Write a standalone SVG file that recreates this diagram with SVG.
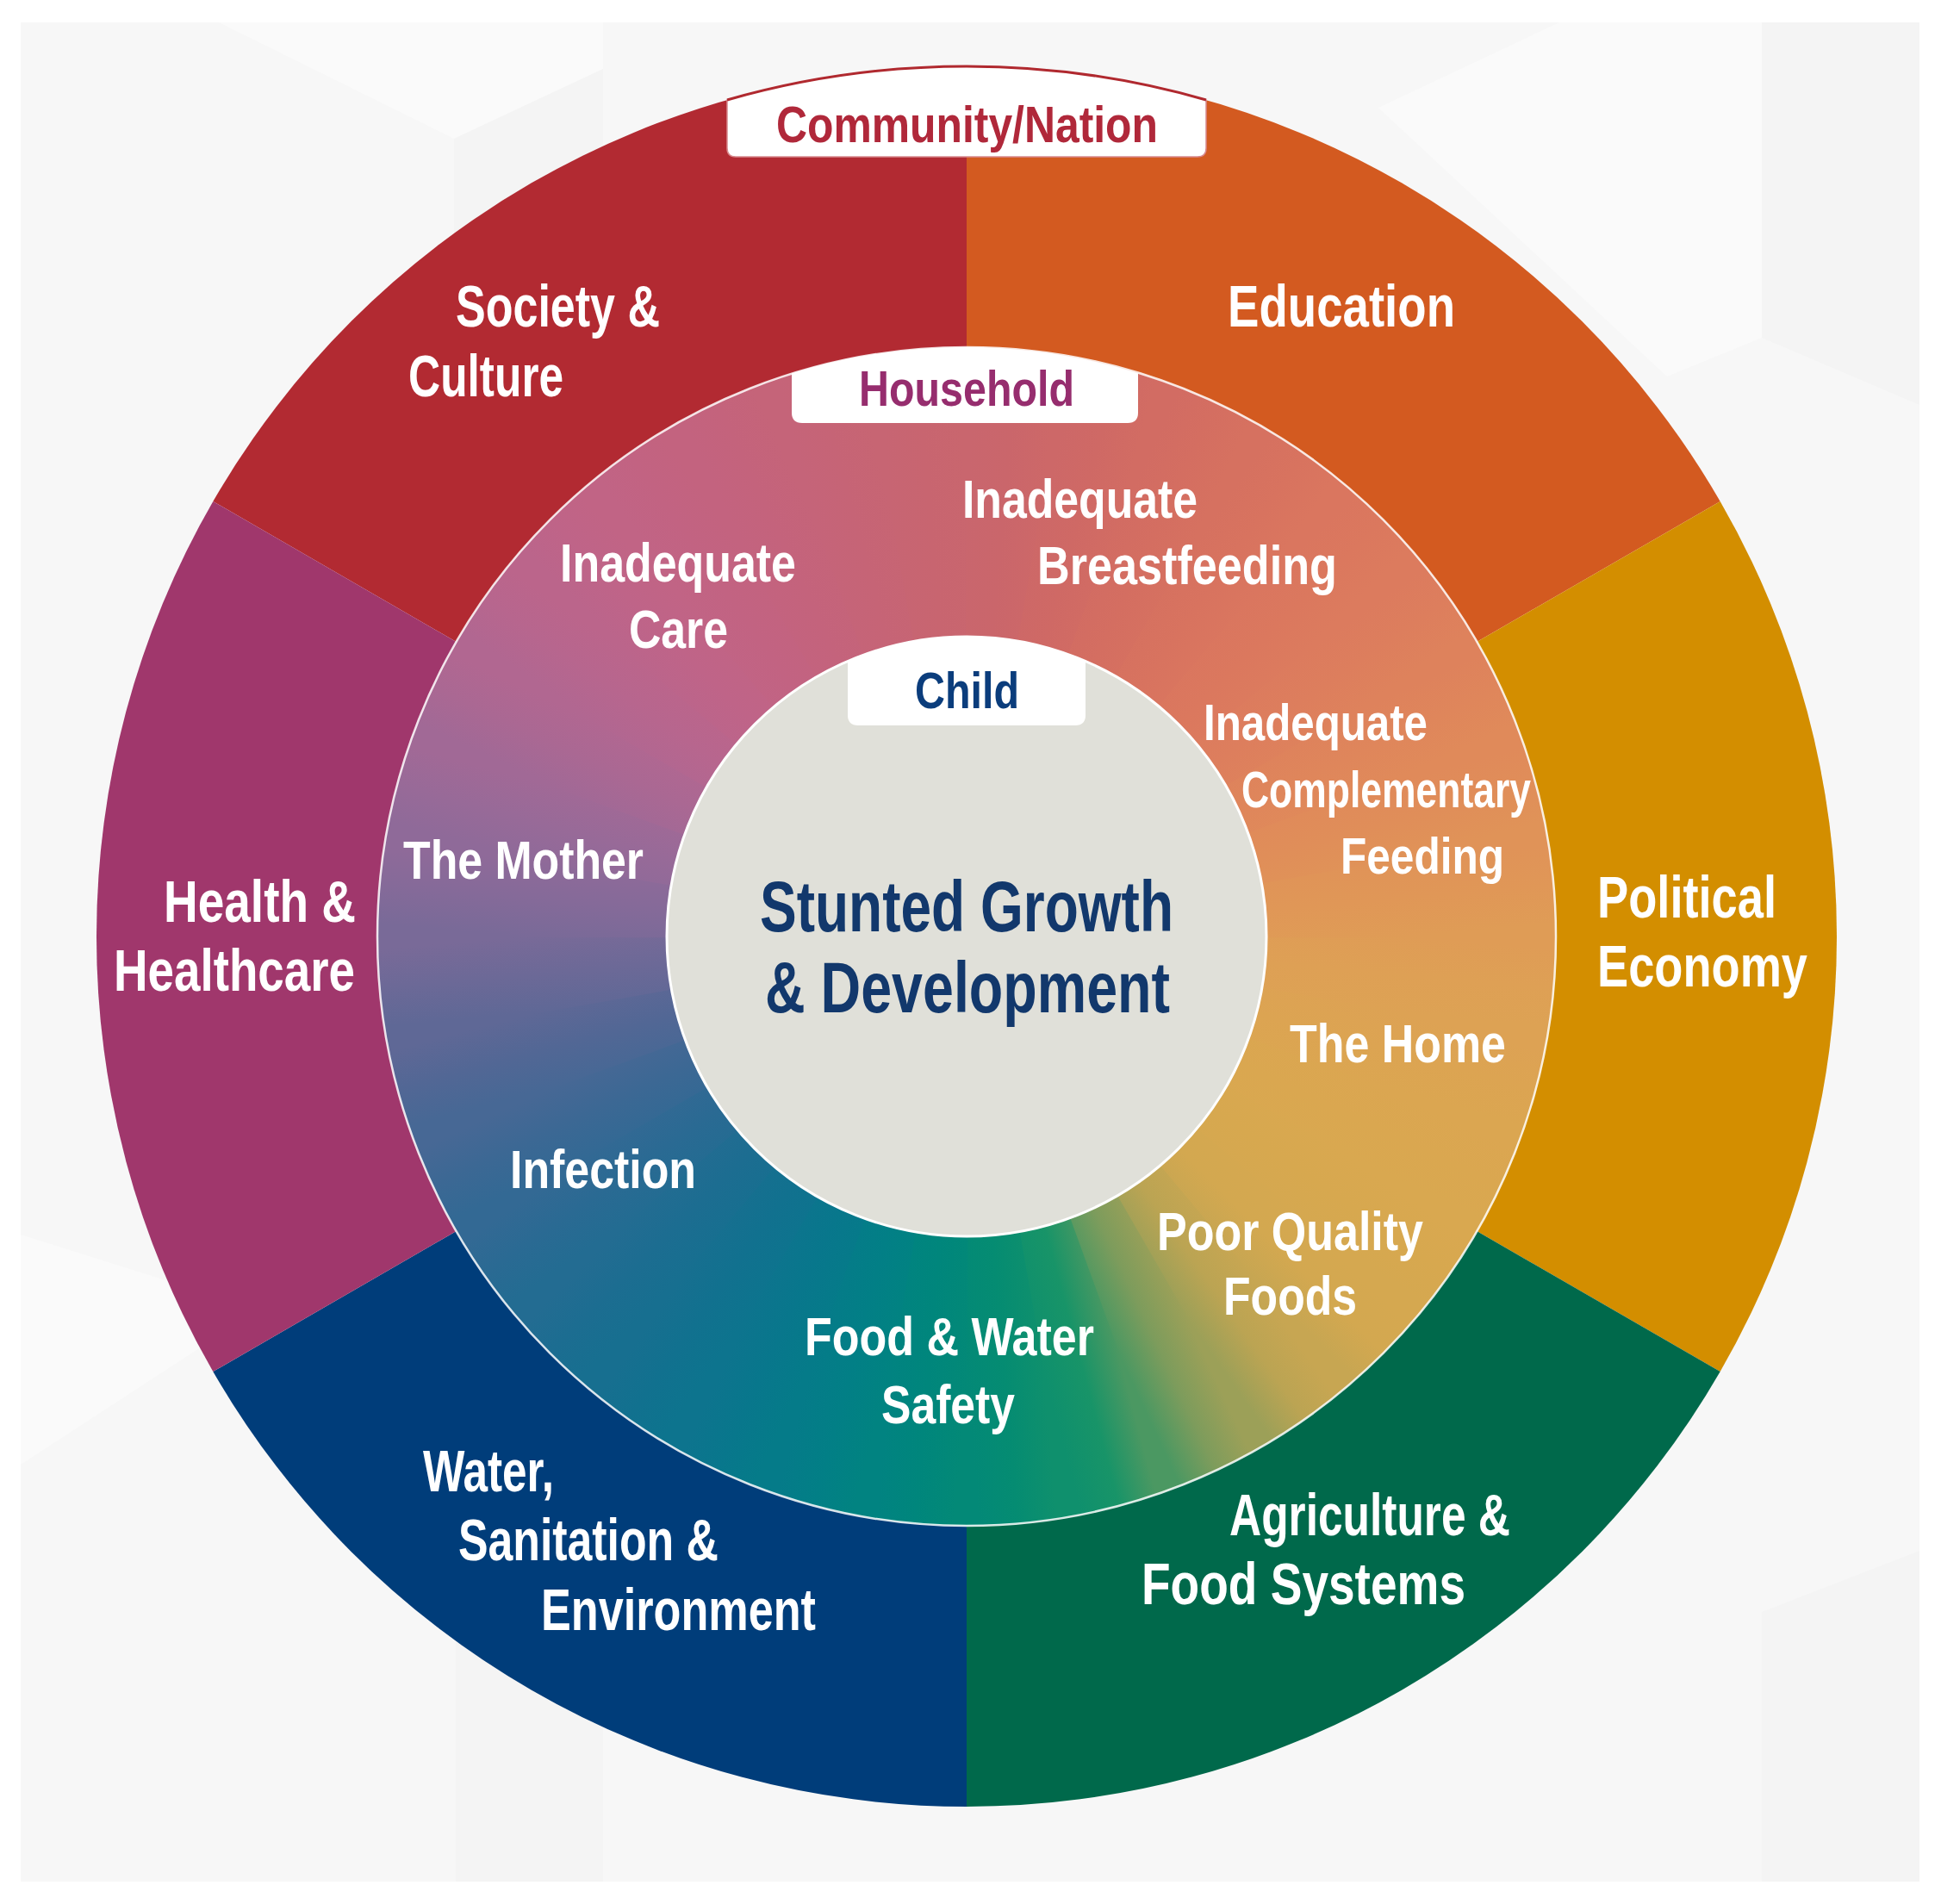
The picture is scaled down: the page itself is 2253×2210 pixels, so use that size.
<svg xmlns="http://www.w3.org/2000/svg" width="2253" height="2210" viewBox="0 0 2253 2210">
<defs>
<style>
.t{font-family:"Liberation Sans",Arial,sans-serif;font-weight:bold;}
.w{fill:#ffffff;}
.o{font-size:68px;}
.m{font-size:63px;}
.sm{font-size:60px;}
.c{font-size:84px;fill:#12386c;}
.wg path{stroke-width:2.5;}
.facet{fill:#f4f4f4;}
.facet2{fill:#fafafa;}
</style>
<clipPath id="ringClip"><circle cx="1122" cy="1087" r="684"/></clipPath>
<linearGradient id="g0" gradientUnits="userSpaceOnUse" x1="1637" y1="1087" x2="1629.18" y2="1176.43"><stop offset="0" stop-color="#df9c56"/><stop offset="0.5" stop-color="#dea055"/><stop offset="1" stop-color="#dda254"/></linearGradient>
<linearGradient id="g1" gradientUnits="userSpaceOnUse" x1="1629.18" y1="1176.43" x2="1605.94" y2="1263.14"><stop offset="0" stop-color="#dda254"/><stop offset="0.5" stop-color="#dca452"/><stop offset="1" stop-color="#dba651"/></linearGradient>
<linearGradient id="g2" gradientUnits="userSpaceOnUse" x1="1605.94" y1="1263.14" x2="1568" y2="1344.5"><stop offset="0" stop-color="#dba651"/><stop offset="0.5" stop-color="#daa750"/><stop offset="1" stop-color="#d9a850"/></linearGradient>
<linearGradient id="g3" gradientUnits="userSpaceOnUse" x1="1568" y1="1344.5" x2="1516.51" y2="1418.04"><stop offset="0" stop-color="#d9a850"/><stop offset="0.5" stop-color="#d7a84f"/><stop offset="1" stop-color="#d5a850"/></linearGradient>
<linearGradient id="g4" gradientUnits="userSpaceOnUse" x1="1516.51" y1="1418.04" x2="1453.04" y2="1481.51"><stop offset="0" stop-color="#d5a850"/><stop offset="0.5" stop-color="#d3a850"/><stop offset="1" stop-color="#c7a652"/></linearGradient>
<linearGradient id="g5" gradientUnits="userSpaceOnUse" x1="1453.04" y1="1481.51" x2="1379.5" y2="1533"><stop offset="0" stop-color="#c7a652"/><stop offset="0.5" stop-color="#bba453"/><stop offset="1" stop-color="#9ca058"/></linearGradient>
<linearGradient id="g6" gradientUnits="userSpaceOnUse" x1="1379.5" y1="1533" x2="1298.14" y2="1570.94"><stop offset="0" stop-color="#9ca058"/><stop offset="0.5" stop-color="#7d9c5c"/><stop offset="1" stop-color="#4b9862"/></linearGradient>
<linearGradient id="g7" gradientUnits="userSpaceOnUse" x1="1298.14" y1="1570.94" x2="1211.43" y2="1594.18"><stop offset="0" stop-color="#4b9862"/><stop offset="0.5" stop-color="#189468"/><stop offset="1" stop-color="#0f906d"/></linearGradient>
<linearGradient id="g8" gradientUnits="userSpaceOnUse" x1="1211.43" y1="1594.18" x2="1122" y2="1602"><stop offset="0" stop-color="#0f906d"/><stop offset="0.5" stop-color="#058c72"/><stop offset="1" stop-color="#038977"/></linearGradient>
<linearGradient id="g9" gradientUnits="userSpaceOnUse" x1="1122" y1="1602" x2="1032.57" y2="1594.18"><stop offset="0" stop-color="#038977"/><stop offset="0.5" stop-color="#00867c"/><stop offset="1" stop-color="#018381"/></linearGradient>
<linearGradient id="g10" gradientUnits="userSpaceOnUse" x1="1032.57" y1="1594.18" x2="945.86" y2="1570.94"><stop offset="0" stop-color="#018381"/><stop offset="0.5" stop-color="#027f86"/><stop offset="1" stop-color="#057b89"/></linearGradient>
<linearGradient id="g11" gradientUnits="userSpaceOnUse" x1="945.86" y1="1570.94" x2="864.5" y2="1533"><stop offset="0" stop-color="#057b89"/><stop offset="0.5" stop-color="#08778c"/><stop offset="1" stop-color="#0d748e"/></linearGradient>
<linearGradient id="g12" gradientUnits="userSpaceOnUse" x1="864.5" y1="1533" x2="790.96" y2="1481.51"><stop offset="0" stop-color="#0d748e"/><stop offset="0.5" stop-color="#11718f"/><stop offset="1" stop-color="#176f90"/></linearGradient>
<linearGradient id="g13" gradientUnits="userSpaceOnUse" x1="790.96" y1="1481.51" x2="727.49" y2="1418.04"><stop offset="0" stop-color="#176f90"/><stop offset="0.5" stop-color="#1c6d91"/><stop offset="1" stop-color="#236c92"/></linearGradient>
<linearGradient id="g14" gradientUnits="userSpaceOnUse" x1="727.49" y1="1418.04" x2="676" y2="1344.5"><stop offset="0" stop-color="#236c92"/><stop offset="0.5" stop-color="#2a6a93"/><stop offset="1" stop-color="#336994"/></linearGradient>
<linearGradient id="g15" gradientUnits="userSpaceOnUse" x1="676" y1="1344.5" x2="638.06" y2="1263.14"><stop offset="0" stop-color="#336994"/><stop offset="0.5" stop-color="#3c6894"/><stop offset="1" stop-color="#476895"/></linearGradient>
<linearGradient id="g16" gradientUnits="userSpaceOnUse" x1="638.06" y1="1263.14" x2="614.82" y2="1176.43"><stop offset="0" stop-color="#476895"/><stop offset="0.5" stop-color="#526795"/><stop offset="1" stop-color="#5f6896"/></linearGradient>
<linearGradient id="g17" gradientUnits="userSpaceOnUse" x1="614.82" y1="1176.43" x2="607" y2="1087"><stop offset="0" stop-color="#5f6896"/><stop offset="0.5" stop-color="#6c6997"/><stop offset="1" stop-color="#796a98"/></linearGradient>
<linearGradient id="g18" gradientUnits="userSpaceOnUse" x1="607" y1="1087" x2="614.82" y2="997.57"><stop offset="0" stop-color="#796a98"/><stop offset="0.5" stop-color="#856a99"/><stop offset="1" stop-color="#8f6a99"/></linearGradient>
<linearGradient id="g19" gradientUnits="userSpaceOnUse" x1="614.82" y1="997.57" x2="638.06" y2="910.86"><stop offset="0" stop-color="#8f6a99"/><stop offset="0.5" stop-color="#986a98"/><stop offset="1" stop-color="#a16996"/></linearGradient>
<linearGradient id="g20" gradientUnits="userSpaceOnUse" x1="638.06" y1="910.86" x2="676" y2="829.5"><stop offset="0" stop-color="#a16996"/><stop offset="0.5" stop-color="#aa6893"/><stop offset="1" stop-color="#b16791"/></linearGradient>
<linearGradient id="g21" gradientUnits="userSpaceOnUse" x1="676" y1="829.5" x2="727.49" y2="755.96"><stop offset="0" stop-color="#b16791"/><stop offset="0.5" stop-color="#b7668e"/><stop offset="1" stop-color="#bb658b"/></linearGradient>
<linearGradient id="g22" gradientUnits="userSpaceOnUse" x1="727.49" y1="755.96" x2="790.96" y2="692.49"><stop offset="0" stop-color="#bb658b"/><stop offset="0.5" stop-color="#bf6488"/><stop offset="1" stop-color="#c16485"/></linearGradient>
<linearGradient id="g23" gradientUnits="userSpaceOnUse" x1="790.96" y1="692.49" x2="864.5" y2="641"><stop offset="0" stop-color="#c16485"/><stop offset="0.5" stop-color="#c26382"/><stop offset="1" stop-color="#c3637f"/></linearGradient>
<linearGradient id="g24" gradientUnits="userSpaceOnUse" x1="864.5" y1="641" x2="945.86" y2="603.06"><stop offset="0" stop-color="#c3637f"/><stop offset="0.5" stop-color="#c4637c"/><stop offset="1" stop-color="#c56479"/></linearGradient>
<linearGradient id="g25" gradientUnits="userSpaceOnUse" x1="945.86" y1="603.06" x2="1032.57" y2="579.82"><stop offset="0" stop-color="#c56479"/><stop offset="0.5" stop-color="#c66476"/><stop offset="1" stop-color="#c76573"/></linearGradient>
<linearGradient id="g26" gradientUnits="userSpaceOnUse" x1="1032.57" y1="579.82" x2="1122" y2="572"><stop offset="0" stop-color="#c76573"/><stop offset="0.5" stop-color="#c86570"/><stop offset="1" stop-color="#c9666e"/></linearGradient>
<linearGradient id="g27" gradientUnits="userSpaceOnUse" x1="1122" y1="572" x2="1211.43" y2="579.82"><stop offset="0" stop-color="#c9666e"/><stop offset="0.5" stop-color="#ca666b"/><stop offset="1" stop-color="#cd6868"/></linearGradient>
<linearGradient id="g28" gradientUnits="userSpaceOnUse" x1="1211.43" y1="579.82" x2="1298.14" y2="603.06"><stop offset="0" stop-color="#cd6868"/><stop offset="0.5" stop-color="#cf6965"/><stop offset="1" stop-color="#d26c63"/></linearGradient>
<linearGradient id="g29" gradientUnits="userSpaceOnUse" x1="1298.14" y1="603.06" x2="1379.5" y2="641"><stop offset="0" stop-color="#d26c63"/><stop offset="0.5" stop-color="#d46e61"/><stop offset="1" stop-color="#d67160"/></linearGradient>
<linearGradient id="g30" gradientUnits="userSpaceOnUse" x1="1379.5" y1="641" x2="1453.04" y2="692.49"><stop offset="0" stop-color="#d67160"/><stop offset="0.5" stop-color="#d8735f"/><stop offset="1" stop-color="#da765f"/></linearGradient>
<linearGradient id="g31" gradientUnits="userSpaceOnUse" x1="1453.04" y1="692.49" x2="1516.51" y2="755.96"><stop offset="0" stop-color="#da765f"/><stop offset="0.5" stop-color="#db785e"/><stop offset="1" stop-color="#dc7b5e"/></linearGradient>
<linearGradient id="g32" gradientUnits="userSpaceOnUse" x1="1516.51" y1="755.96" x2="1568" y2="829.5"><stop offset="0" stop-color="#dc7b5e"/><stop offset="0.5" stop-color="#dd7e5d"/><stop offset="1" stop-color="#de825c"/></linearGradient>
<linearGradient id="g33" gradientUnits="userSpaceOnUse" x1="1568" y1="829.5" x2="1605.94" y2="910.86"><stop offset="0" stop-color="#de825c"/><stop offset="0.5" stop-color="#df865b"/><stop offset="1" stop-color="#e08a5a"/></linearGradient>
<linearGradient id="g34" gradientUnits="userSpaceOnUse" x1="1605.94" y1="910.86" x2="1629.18" y2="997.57"><stop offset="0" stop-color="#e08a5a"/><stop offset="0.5" stop-color="#e08e59"/><stop offset="1" stop-color="#e09358"/></linearGradient>
<linearGradient id="g35" gradientUnits="userSpaceOnUse" x1="1629.18" y1="997.57" x2="1637" y2="1087"><stop offset="0" stop-color="#e09358"/><stop offset="0.5" stop-color="#e09757"/><stop offset="1" stop-color="#df9c56"/></linearGradient>
</defs>

<g id="background">
<rect x="0" y="0" width="2253" height="2210" fill="#ffffff"/>
<rect x="24" y="26" width="2204" height="2158" fill="#f7f7f7"/>
<polygon class="facet2" points="254,26 700,26 700,80 527,161"/>
<polygon class="facet" points="527,161 700,80 700,600 527,680"/>
<polygon class="facet" points="2045,26 2228,26 2228,470 2045,392"/>
<polygon class="facet2" points="1600,125 1810,26 2045,26 2045,392 1935,437"/>
<polygon class="facet" points="2045,1871 2228,1800 2228,2184 2045,2184"/>
<polygon class="facet" points="529,1842 700,1780 700,2184 529,2184"/>
<polygon class="facet2" points="24,1433 300,1520 24,1700"/>
</g>

<g id="outer-ring">
<g id="society-culture">
<path d="M1122,1087 L247.3,582 A1010,1010 0 0 1 1122,77 Z" fill="#b22a32"/>
<text class="t w o" x="529" y="379" textLength="237" lengthAdjust="spacingAndGlyphs">Society &amp;</text>
<text class="t w o" x="474" y="460" textLength="180" lengthAdjust="spacingAndGlyphs">Culture</text>
</g>
<g id="education">
<path d="M1122,1087 L1122,77 A1010,1010 0 0 1 1996.7,582 Z" fill="#d35a20"/>
<text class="t w o" x="1425" y="379" textLength="264" lengthAdjust="spacingAndGlyphs">Education</text>
</g>
<g id="political-economy">
<path d="M1122,1087 L1996.7,582 A1010,1010 0 0 1 1996.7,1592 Z" fill="#d38e00"/>
<text class="t w o" x="1854" y="1065" textLength="208" lengthAdjust="spacingAndGlyphs">Political</text>
<text class="t w o" x="1854" y="1145" textLength="244" lengthAdjust="spacingAndGlyphs">Economy</text>
</g>
<g id="agriculture-food-systems">
<path d="M1122,1087 L1996.7,1592 A1010,1010 0 0 1 1122,2097 Z" fill="#00694b"/>
<text class="t w o" x="1427" y="1782" textLength="326" lengthAdjust="spacingAndGlyphs">Agriculture &amp;</text>
<text class="t w o" x="1325" y="1862" textLength="376" lengthAdjust="spacingAndGlyphs">Food Systems</text>
</g>
<g id="water-sanitation-environment">
<path d="M1122,1087 L1122,2097 A1010,1010 0 0 1 247.3,1592 Z" fill="#003d7a"/>
<text class="t w o" x="491" y="1731" textLength="152" lengthAdjust="spacingAndGlyphs">Water,</text>
<text class="t w o" x="532" y="1811" textLength="302" lengthAdjust="spacingAndGlyphs">Sanitation &amp;</text>
<text class="t w o" x="628" y="1892" textLength="319" lengthAdjust="spacingAndGlyphs">Environment</text>
</g>
<g id="health-healthcare">
<path d="M1122,1087 L247.3,1592 A1010,1010 0 0 1 247.3,582 Z" fill="#a0376c"/>
<text class="t w o" x="190" y="1070" textLength="223" lengthAdjust="spacingAndGlyphs">Health &amp;</text>
<text class="t w o" x="132" y="1150" textLength="280" lengthAdjust="spacingAndGlyphs">Healthcare</text>
</g>
</g>

<g id="household-ring">
<g class="wg" clip-path="url(#ringClip)">
<path d="M1122,1087 L1882,1087 L1870.46,1218.97 Z" style="fill:url(#g0);stroke:url(#g0)"/>
<path d="M1122,1087 L1870.46,1218.97 L1836.16,1346.94 Z" style="fill:url(#g1);stroke:url(#g1)"/>
<path d="M1122,1087 L1836.16,1346.94 L1780.18,1467 Z" style="fill:url(#g2);stroke:url(#g2)"/>
<path d="M1122,1087 L1780.18,1467 L1704.19,1575.52 Z" style="fill:url(#g3);stroke:url(#g3)"/>
<path d="M1122,1087 L1704.19,1575.52 L1610.52,1669.19 Z" style="fill:url(#g4);stroke:url(#g4)"/>
<path d="M1122,1087 L1610.52,1669.19 L1502,1745.18 Z" style="fill:url(#g5);stroke:url(#g5)"/>
<path d="M1122,1087 L1502,1745.18 L1381.94,1801.16 Z" style="fill:url(#g6);stroke:url(#g6)"/>
<path d="M1122,1087 L1381.94,1801.16 L1253.97,1835.46 Z" style="fill:url(#g7);stroke:url(#g7)"/>
<path d="M1122,1087 L1253.97,1835.46 L1122,1847 Z" style="fill:url(#g8);stroke:url(#g8)"/>
<path d="M1122,1087 L1122,1847 L990.03,1835.46 Z" style="fill:url(#g9);stroke:url(#g9)"/>
<path d="M1122,1087 L990.03,1835.46 L862.06,1801.16 Z" style="fill:url(#g10);stroke:url(#g10)"/>
<path d="M1122,1087 L862.06,1801.16 L742,1745.18 Z" style="fill:url(#g11);stroke:url(#g11)"/>
<path d="M1122,1087 L742,1745.18 L633.48,1669.19 Z" style="fill:url(#g12);stroke:url(#g12)"/>
<path d="M1122,1087 L633.48,1669.19 L539.81,1575.52 Z" style="fill:url(#g13);stroke:url(#g13)"/>
<path d="M1122,1087 L539.81,1575.52 L463.82,1467 Z" style="fill:url(#g14);stroke:url(#g14)"/>
<path d="M1122,1087 L463.82,1467 L407.84,1346.94 Z" style="fill:url(#g15);stroke:url(#g15)"/>
<path d="M1122,1087 L407.84,1346.94 L373.54,1218.97 Z" style="fill:url(#g16);stroke:url(#g16)"/>
<path d="M1122,1087 L373.54,1218.97 L362,1087 Z" style="fill:url(#g17);stroke:url(#g17)"/>
<path d="M1122,1087 L362,1087 L373.54,955.03 Z" style="fill:url(#g18);stroke:url(#g18)"/>
<path d="M1122,1087 L373.54,955.03 L407.84,827.06 Z" style="fill:url(#g19);stroke:url(#g19)"/>
<path d="M1122,1087 L407.84,827.06 L463.82,707 Z" style="fill:url(#g20);stroke:url(#g20)"/>
<path d="M1122,1087 L463.82,707 L539.81,598.48 Z" style="fill:url(#g21);stroke:url(#g21)"/>
<path d="M1122,1087 L539.81,598.48 L633.48,504.81 Z" style="fill:url(#g22);stroke:url(#g22)"/>
<path d="M1122,1087 L633.48,504.81 L742,428.82 Z" style="fill:url(#g23);stroke:url(#g23)"/>
<path d="M1122,1087 L742,428.82 L862.06,372.84 Z" style="fill:url(#g24);stroke:url(#g24)"/>
<path d="M1122,1087 L862.06,372.84 L990.03,338.54 Z" style="fill:url(#g25);stroke:url(#g25)"/>
<path d="M1122,1087 L990.03,338.54 L1122,327 Z" style="fill:url(#g26);stroke:url(#g26)"/>
<path d="M1122,1087 L1122,327 L1253.97,338.54 Z" style="fill:url(#g27);stroke:url(#g27)"/>
<path d="M1122,1087 L1253.97,338.54 L1381.94,372.84 Z" style="fill:url(#g28);stroke:url(#g28)"/>
<path d="M1122,1087 L1381.94,372.84 L1502,428.82 Z" style="fill:url(#g29);stroke:url(#g29)"/>
<path d="M1122,1087 L1502,428.82 L1610.52,504.81 Z" style="fill:url(#g30);stroke:url(#g30)"/>
<path d="M1122,1087 L1610.52,504.81 L1704.19,598.48 Z" style="fill:url(#g31);stroke:url(#g31)"/>
<path d="M1122,1087 L1704.19,598.48 L1780.18,707 Z" style="fill:url(#g32);stroke:url(#g32)"/>
<path d="M1122,1087 L1780.18,707 L1836.16,827.06 Z" style="fill:url(#g33);stroke:url(#g33)"/>
<path d="M1122,1087 L1836.16,827.06 L1870.46,955.03 Z" style="fill:url(#g34);stroke:url(#g34)"/>
<path d="M1122,1087 L1870.46,955.03 L1882,1087 Z" style="fill:url(#g35);stroke:url(#g35)"/>
</g>
<circle cx="1122" cy="1087" r="684" fill="none" stroke="#ffffff" stroke-opacity="0.85" stroke-width="2.5"/>
</g>

<g id="ring-labels">
<g id="inadequate-care">
<text class="t w m" x="650" y="675" textLength="274" lengthAdjust="spacingAndGlyphs">Inadequate</text>
<text class="t w m" x="730" y="752" textLength="115" lengthAdjust="spacingAndGlyphs">Care</text>
</g>
<g id="inadequate-breastfeeding">
<text class="t w m" x="1117" y="601" textLength="273" lengthAdjust="spacingAndGlyphs">Inadequate</text>
<text class="t w m" x="1204" y="678" textLength="348" lengthAdjust="spacingAndGlyphs">Breastfeeding</text>
</g>
<g id="inadequate-complementary-feeding">
<text class="t w sm" x="1397" y="859" textLength="260" lengthAdjust="spacingAndGlyphs">Inadequate</text>
<text class="t w sm" x="1441" y="937" textLength="336" lengthAdjust="spacingAndGlyphs">Complementary</text>
<text class="t w sm" x="1556" y="1014" textLength="190" lengthAdjust="spacingAndGlyphs">Feeding</text>
</g>
<g id="the-mother">
<text class="t w m" x="468" y="1020" textLength="279" lengthAdjust="spacingAndGlyphs">The Mother</text>
</g>
<g id="the-home">
<text class="t w m" x="1497" y="1233" textLength="251" lengthAdjust="spacingAndGlyphs">The Home</text>
</g>
<g id="infection">
<text class="t w m" x="592" y="1379" textLength="216" lengthAdjust="spacingAndGlyphs">Infection</text>
</g>
<g id="poor-quality-foods">
<text class="t w m" x="1343" y="1451" textLength="309" lengthAdjust="spacingAndGlyphs">Poor Quality</text>
<text class="t w m" x="1420" y="1526" textLength="155" lengthAdjust="spacingAndGlyphs">Foods</text>
</g>
<g id="food-water-safety">
<text class="t w m" x="934" y="1573" textLength="336" lengthAdjust="spacingAndGlyphs">Food &amp; Water</text>
<text class="t w m" x="1023" y="1652" textLength="155" lengthAdjust="spacingAndGlyphs">Safety</text>
</g>
</g>

<g id="child-core">
<circle cx="1122" cy="1087" r="348" fill="#e0e0d9" stroke="#ffffff" stroke-width="3"/>
<text class="t c" x="882" y="1081" textLength="480" lengthAdjust="spacingAndGlyphs">Stunted Growth</text>
<text class="t c" x="888" y="1175" textLength="470" lengthAdjust="spacingAndGlyphs">&amp; Development</text>
</g>

<g id="label-community">
<path d="M844,116 A1010,1010 0 0 1 1400,116 L1400,172 Q1400,182 1390,182 L854,182 Q844,182 844,172 Z" fill="#ffffff" stroke="#d88a8e" stroke-width="1.5"/>
<path d="M844,116 A1010,1010 0 0 1 1400,116" fill="none" stroke="#b0292f" stroke-width="3"/>
<text class="t sm" x="901" y="165" fill="#b0283a" textLength="443" lengthAdjust="spacingAndGlyphs">Community/Nation</text>
</g>
<g id="label-household">
<path d="M919,433.2 A684,684 0 0 1 1321,433.2 L1321,479 Q1321,491 1309,491 L931,491 Q919,491 919,479 Z" fill="#ffffff"/>
<text class="t" x="997" y="471" font-size="58" fill="#962d6e" textLength="250" lengthAdjust="spacingAndGlyphs">Household</text>
</g>
<g id="label-child">
<path d="M984,767.5 A348,348 0 0 1 1260,767.5 L1260,830 Q1260,842 1248,842 L996,842 Q984,842 984,830 Z" fill="#ffffff"/>
<text class="t" x="1062" y="822" font-size="60" fill="#0b3d7c" textLength="121" lengthAdjust="spacingAndGlyphs">Child</text>
</g>

<g id="connectors"></g>
</svg>
